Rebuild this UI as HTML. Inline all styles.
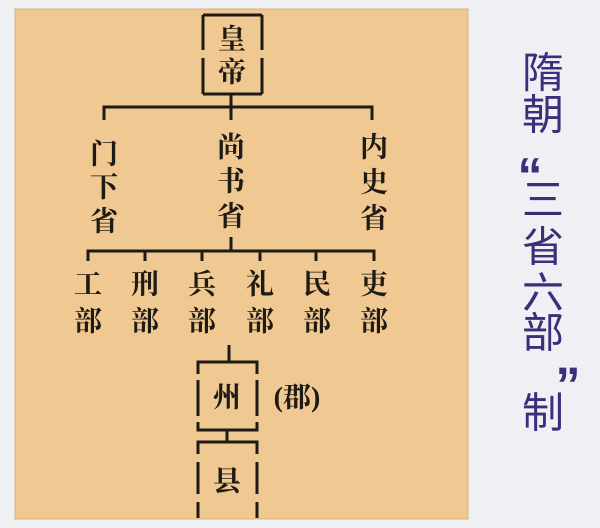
<!DOCTYPE html>
<html><head><meta charset="utf-8"><style>
html,body{margin:0;padding:0;width:600px;height:528px;overflow:hidden;background:#eef0f4;}
svg{display:block}
.m{font-family:"Liberation Serif","Noto Serif CJK SC",serif;font-size:28px;font-weight:700;fill:#1e1a14;text-anchor:middle;dominant-baseline:central}
.t{font-family:"Liberation Sans","Noto Sans CJK SC",sans-serif;font-size:42px;font-weight:400;fill:#3b2f7c;text-anchor:middle;dominant-baseline:central}
</style></head><body>
<svg width="600" height="528" viewBox="0 0 600 528">
<rect x="0" y="0" width="600" height="528" fill="#eef0f4"/>
<rect x="15" y="9" width="453" height="510" fill="#f0c891" stroke="#d9b27c" stroke-width="1"/>
<g stroke="#1e1a14" stroke-width="3" fill="none">
<path d="M203 15 H262 M203 94 H262"/>
<path d="M203 15 V50 M203 58 V94 M262 15 V50 M262 58 V94"/>
<path d="M231 94 V107 M104 120 V107 H372 V120"/>
<path d="M231 107 V120"/>
<path d="M231 237 V251 M88 261 V251 H374 V261 M145 251 V261 M202 251 V261 M260 251 V261 M316 251 V261"/>
<path d="M229 345 V362"/>
<path d="M198 374 V362 H257 V374 M198 380 V416 M257 380 V416 M198 422 V430 H257 V422"/>
<path d="M227 430 V442"/>
<path d="M198 454 V442 H257 V454 M198 462 V494 M257 462 V494 M198 502 V518 M257 502 V518"/>
</g>
<text class="m" x="232" y="40">皇</text>
<text class="m" x="232" y="73">帝</text>
<text class="m" x="104" y="155">门</text>
<text class="m" x="104" y="188">下</text>
<text class="m" x="104" y="222">省</text>
<text class="m" x="231" y="148">尚</text>
<text class="m" x="231" y="182">书</text>
<text class="m" x="231" y="217">省</text>
<text class="m" x="374" y="148">内</text>
<text class="m" x="374" y="183">史</text>
<text class="m" x="374" y="219">省</text>
<g>
<text class="m" x="88" y="285">工</text><text class="m" x="88" y="322">部</text>
<text class="m" x="145" y="285">刑</text><text class="m" x="145" y="322">部</text>
<text class="m" x="202" y="285">兵</text><text class="m" x="202" y="322">部</text>
<text class="m" x="260" y="285">礼</text><text class="m" x="260" y="322">部</text>
<text class="m" x="317" y="285">民</text><text class="m" x="317" y="322">部</text>
<text class="m" x="374" y="285">吏</text><text class="m" x="374" y="322">部</text>
</g>
<text class="m" x="227" y="398">州</text>
<text class="m" x="297" y="398">(郡)</text>
<text class="m" x="227" y="482">县</text>
<text class="t" x="543" y="73">隋</text>
<text class="t" x="543" y="115">朝</text>
<text class="t" x="530" y="176" style="font-weight:700;font-size:50px">“</text>
<text class="t" x="543" y="200">三</text>
<text class="t" x="543" y="247">省</text>
<text class="t" x="543" y="293">六</text>
<text class="t" x="543" y="333">部</text>
<text class="t" x="568" y="385" style="font-weight:700;font-size:50px">”</text>
<text class="t" x="543" y="413">制</text>
</svg>
</body></html>
